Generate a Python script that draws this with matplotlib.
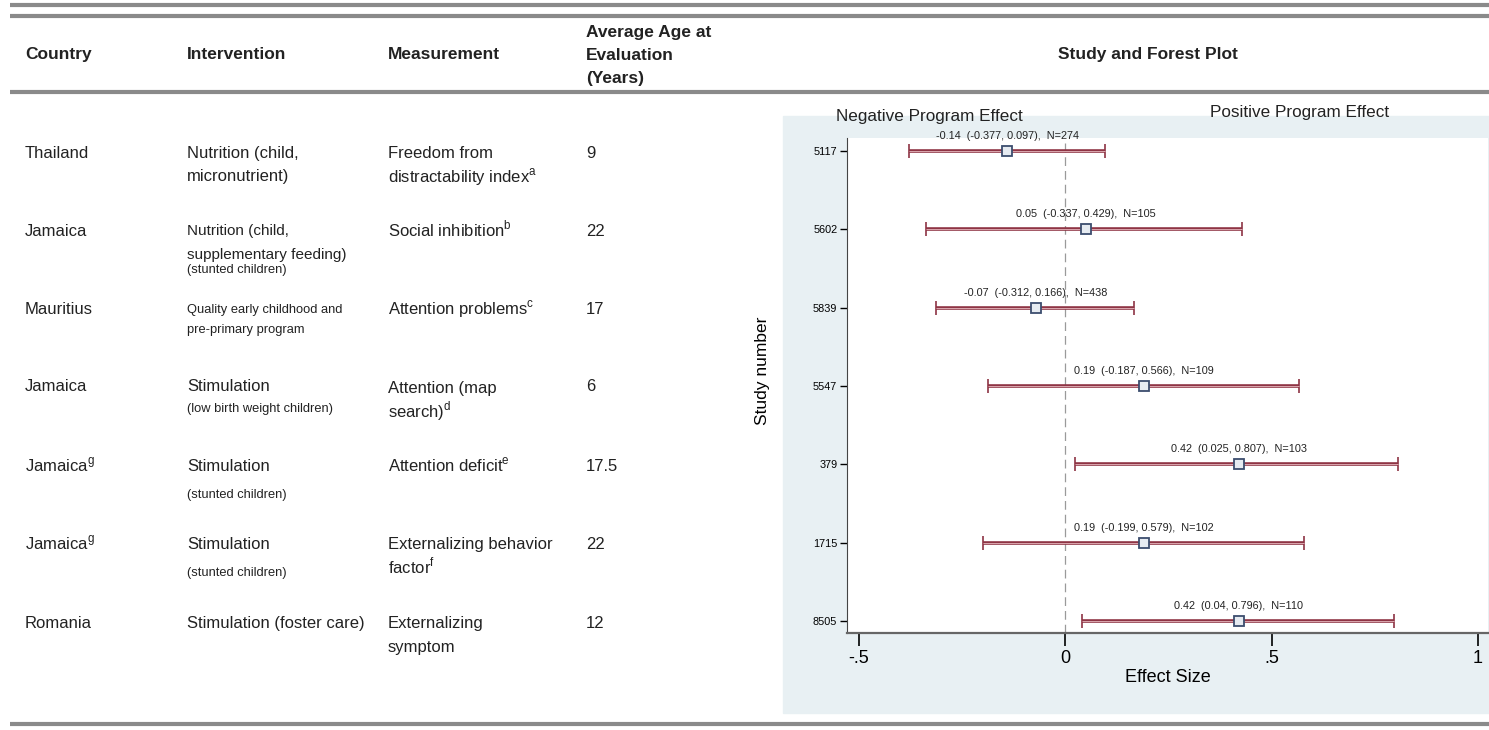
import matplotlib.pyplot as plt
from matplotlib.patches import Rectangle

plt.rcParams['font.family'] = ['Liberation Sans', 'DejaVu Sans']

# --- Table data ---
countries = ['Thailand', 'Jamaica', 'Mauritius', 'Jamaica', r'Jamaica$^{\mathregular{g}}$',
             r'Jamaica$^{\mathregular{g}}$', 'Romania']
interventions = ['Nutrition (child,\nmicronutrient)', 'Nutrition (child,\nsupplementary feeding)', '',
                 'Stimulation', 'Stimulation', 'Stimulation', 'Stimulation (foster care)']
intervention_notes = ['', '(stunted children)', 'Quality early childhood and\npre-primary program',
                      '(low birth weight children)', '(stunted children)', '(stunted children)', '']
measurements = [r'Freedom from' + '\n' + r'distractability index$^{\mathregular{a}}$',
                r'Social inhibition$^{\mathregular{b}}$',
                r'Attention problems$^{\mathregular{c}}$',
                'Attention (map\n' + r'search)$^{\mathregular{d}}$',
                r'Attention deficit$^{\mathregular{e}}$',
                'Externalizing behavior\n' + r'factor$^{\mathregular{f}}$',
                'Externalizing\nsymptom']
ages = ['9', '22', '17', '6', '17.5', '22', '12']

# --- Forest plot data ---
study_ids = ['5117', '5602', '5839', '5547', '379', '1715', '8505']
effects = [-0.14, 0.05, -0.07, 0.19, 0.42, 0.19, 0.42]
ci_low = [-0.377, -0.337, -0.312, -0.187, 0.025, -0.199, 0.04]
ci_high = [0.097, 0.429, 0.166, 0.566, 0.807, 0.579, 0.796]
n_obs = [274, 105, 438, 109, 103, 102, 110]

W, H = 1489, 730
fig = plt.figure(figsize=(W / 100, H / 100), dpi=100)
bg = fig.add_axes([0, 0, 1, 1])
bg.set_xlim(0, W)
bg.set_ylim(H, 0)
bg.axis('off')


def put(x, yc, s, size, step=24, **kw):
    # place each line of s with its vertical centre (cap height) at yc, yc+step, ...
    for k, line in enumerate(s.split('\n')):
        bg.text(x, yc + k * step + 0.36 * size * 100 / 72, line, fontsize=size,
                va='baseline', color='#222222', **kw)


line_col = '#8a8a8a'
for y in [5, 16, 92, 724]:
    bg.plot([10, W], [y, y], color=line_col, lw=3, solid_capstyle='butt')

# headers
put(25, 53, 'Country', 12.5, fontweight='bold')
put(187, 53, 'Intervention', 12.5, fontweight='bold')
put(388, 53, 'Measurement', 12.5, fontweight='bold')
put(586, 31, 'Average Age at\nEvaluation\n(Years)', 12.5, step=23, fontweight='bold')
bg.text(1148, 53 + 0.36 * 12.5 * 100 / 72, 'Study and Forest Plot', fontsize=12.5,
        fontweight='bold', ha='center', va='baseline', color='#222222')

# rows
row_y = [152, 230, 308, 385, 465, 543, 622]
for i, y in enumerate(row_y):
    put(25, y, countries[i], 12)
    if interventions[i]:
        isize = 11 if i == 1 else 12
        put(187, y, interventions[i], isize, step=23)
        if intervention_notes[i]:
            off = 38 if i == 1 else (22 if i == 3 else 28)
            put(187, y + off, intervention_notes[i], 9.3)
    else:
        put(187, y, intervention_notes[i], 9.3, step=20)
    put(388, y + (2 if i == 3 else 0), measurements[i], 12, step=24)
    put(586, y, ages[i], 12)

# shaded plot region
bg.add_patch(Rectangle((783, 116), W - 783, 713 - 116, color='#e8f0f3', zorder=0))
bg.text(929, 116, 'Negative Program Effect', fontsize=12.3, ha='center', va='center', color='#222222')
bg.text(1300, 112, 'Positive Program Effect', fontsize=12.3, ha='center', va='center', color='#222222')

# forest plot axes
ax = fig.add_axes([847 / W, 1 - 633 / H, (1488 - 847) / W, (633 - 138) / H])
ax.set_facecolor('white')
ypos = list(range(len(study_ids), 0, -1))
bar_col = '#8e3444'
ax.errorbar(effects, ypos, xerr=[[e - l for e, l in zip(effects, ci_low)],
                                 [h - e for e, h in zip(effects, ci_high)]],
            fmt='none', ecolor=bar_col, elinewidth=2.6, capsize=5, capthick=1.2, zorder=2)
ax.hlines(ypos, ci_low, ci_high, color='#e7b9c0', lw=0.6, zorder=3)
ax.plot(effects, ypos, 's', mfc='#e6ebf1', mec='#3c4d6e', ms=7.5, mew=1.3, zorder=4)
for x, y, lo, hi, n in zip(effects, ypos, ci_low, ci_high, n_obs):
    lab = f'{x:g}  ({lo:g}, {hi:g}),  N={n}'
    ax.text(x, y + 0.19, lab, fontsize=7.8, ha='center', va='center', color='#222222')
ax.axvline(0, color='#9a9a9a', lw=0.9, ls=(0, (7, 4)), zorder=1)

ax.set_xlim(-0.528, 1.024)
ax.set_ylim(1 - 0.153, 7 + 0.166)
ax.set_xticks([-0.5, 0, 0.5, 1])
ax.set_xticklabels(['-.5', '0', '.5', '1'], fontsize=13)
ax.set_yticks(ypos)
ax.set_yticklabels(study_ids, fontsize=7.8)
ax.tick_params(axis='x', length=9, width=1.2, pad=3)
ax.tick_params(axis='y', length=5, width=1, pad=2)
ax.spines['top'].set_visible(False)
ax.spines['right'].set_visible(False)
ax.spines['left'].set_color('#444444')
ax.spines['bottom'].set_color('#666666')
ax.spines['bottom'].set_linewidth(1.6)
ax.set_xlabel('Effect Size', fontsize=13, labelpad=2)
ax.set_ylabel('Study number', fontsize=12.5)
ax.yaxis.set_label_coords(-0.12, 0.53)

fig.savefig('out.png', dpi=100)
